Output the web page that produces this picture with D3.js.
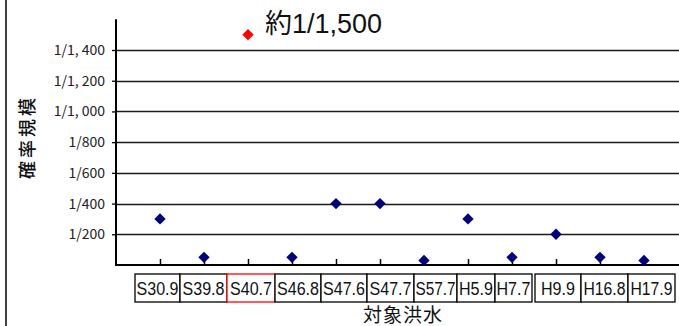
<!DOCTYPE html>
<html><head><meta charset="utf-8">
<script src="https://cdn.jsdelivr.net/npm/d3@7/dist/d3.min.js"></script>
<style>
html,body{margin:0;padding:0;background:#fff;}
svg{display:block;}
</style></head>
<body>
<svg id="chart" width="679" height="326"></svg>
<script>
// ---- data ----
const categories = ["S30.9","S39.8","S40.7","S46.8","S47.6","S47.7","S57.7","H5.9","H7.7","H9.9","H16.8","H17.9"];
const returnPeriods = [300, 50, 1500, 50, 400, 400, 30, 300, 50, 200, 50, 30];
const highlightCategory = "S40.7";
const yTickValues = [200, 400, 600, 800, 1000, 1200, 1400];
const yTickLabels = ["1/200","1/400","1/600","1/800","1/1, 000","1/1, 200","1/1, 400"];
const annotationText = "約1/1,500";
const yTitle = "確率規模";
const xTitle = "対象洪水";

// ---- layout (not data) ----
const labelBoxWidths = [45, 47, 48, 46, 46, 47, 43, 38, 37, 46, 47, 47];
const labelBoxGaps   = [0, 0, 0, 0, 0, 0, 0, 0, 0, 3, 0, 0];

const svg = d3.select("#chart");
const x = d3.scaleLinear().domain([0, 13]).range([116, 688]);
const y = d3.scaleLinear().domain([0, 1600]).range([265, 19.3]);

// left border line
svg.append("line").attr("x1", 6).attr("x2", 6).attr("y1", 0).attr("y2", 326)
  .attr("stroke", "#000").attr("stroke-width", 1.5);

// gridlines
svg.append("g").selectAll("line").data(yTickValues).join("line")
  .attr("x1", 116).attr("x2", 679)
  .attr("y1", d => Math.round(y(d)) + 0.5).attr("y2", d => Math.round(y(d)) + 0.5)
  .attr("stroke", "#1a1a1a").attr("stroke-width", 1.3);

// y axis
const yAxis = d3.axisLeft(y).tickValues(yTickValues)
  .tickFormat((d, i) => yTickLabels[i]).tickSize(4).tickPadding(7);
const gy = svg.append("g").attr("transform", "translate(116,0)").call(yAxis);
gy.select(".domain").remove();
gy.selectAll(".tick line").attr("stroke", "#000").attr("stroke-width", 1.3);
gy.selectAll(".tick text").attr("font-family", "'Noto Sans CJK JP', sans-serif")
  .attr("font-size", 14).attr("fill", "#222");
svg.append("line").attr("x1", 116).attr("x2", 116).attr("y1", y(1600)).attr("y2", 266)
  .attr("stroke", "#000").attr("stroke-width", 2);

// x axis
const xAxis = d3.axisBottom(x).tickValues(d3.range(1, categories.length + 1))
  .tickFormat("").tickSize(-6);
const gx = svg.append("g").attr("transform", "translate(0,265)").call(xAxis);
gx.select(".domain").remove();
gx.selectAll(".tick line").attr("stroke", "#000").attr("stroke-width", 1.5);
svg.append("line").attr("x1", 115).attr("x2", 679).attr("y1", 265).attr("y2", 265)
  .attr("stroke", "#000").attr("stroke-width", 2);

// points
const diamond = d3.symbol().type(d3.symbolDiamond2).size(82);
svg.append("g").selectAll("path").data(returnPeriods).join("path")
  .attr("d", diamond)
  .attr("transform", (d, i) => `translate(${x(i + 1)},${y(d)})`)
  .attr("fill", (d, i) => categories[i] === highlightCategory ? "#ff0000" : "#000080");

// annotation
const hi = categories.indexOf(highlightCategory);
svg.append("text").text(annotationText)
  .attr("x", x(hi + 1) + 17).attr("y", y(returnPeriods[hi]) - 2)
  .attr("font-family", "'Liberation Sans', 'Noto Sans CJK JP', sans-serif")
  .attr("font-size", 27).attr("fill", "#111");

// category label boxes
let cursor = 135;
const boxes = categories.map((c, i) => {
  cursor += labelBoxGaps[i];
  const b = { c, x0: cursor, w: labelBoxWidths[i] };
  cursor += labelBoxWidths[i];
  return b;
});
const gl = svg.append("g");
gl.selectAll("rect").data(boxes).join("rect")
  .attr("x", d => d.x0).attr("y", 274).attr("width", d => d.w).attr("height", 28)
  .attr("fill", "#fff")
  .attr("stroke", d => d.c === highlightCategory ? "#ff0000" : "#000")
  .attr("stroke-width", 1.3);
gl.selectAll("text").data(boxes).join("text")
  .text(d => d.c)
  .attr("x", d => d.x0 + d.w / 2).attr("y", 295)
  .attr("text-anchor", "middle")
  .attr("font-family", "'Liberation Sans', Arial, sans-serif")
  .attr("font-size", 18).attr("fill", "#111")
  .attr("textLength", d => Math.min(d.w - 3, d.c.length >= 5 ? 42 : 34))
  .attr("lengthAdjust", "spacingAndGlyphs");

// axis titles
svg.append("text").text(yTitle)
  .attr("transform", "translate(34,137) rotate(-90)")
  .attr("text-anchor", "middle")
  .attr("font-family", "'Noto Sans CJK JP', sans-serif")
  .attr("font-size", 18).attr("font-weight", 500).attr("fill", "#111")
  .attr("letter-spacing", 3);
svg.append("text").text(xTitle)
  .attr("x", 403).attr("y", 322)
  .attr("text-anchor", "middle")
  .attr("font-family", "'Noto Sans CJK JP', sans-serif")
  .attr("font-size", 19).attr("fill", "#111")
  .attr("letter-spacing", 1);
</script>
</body></html>
